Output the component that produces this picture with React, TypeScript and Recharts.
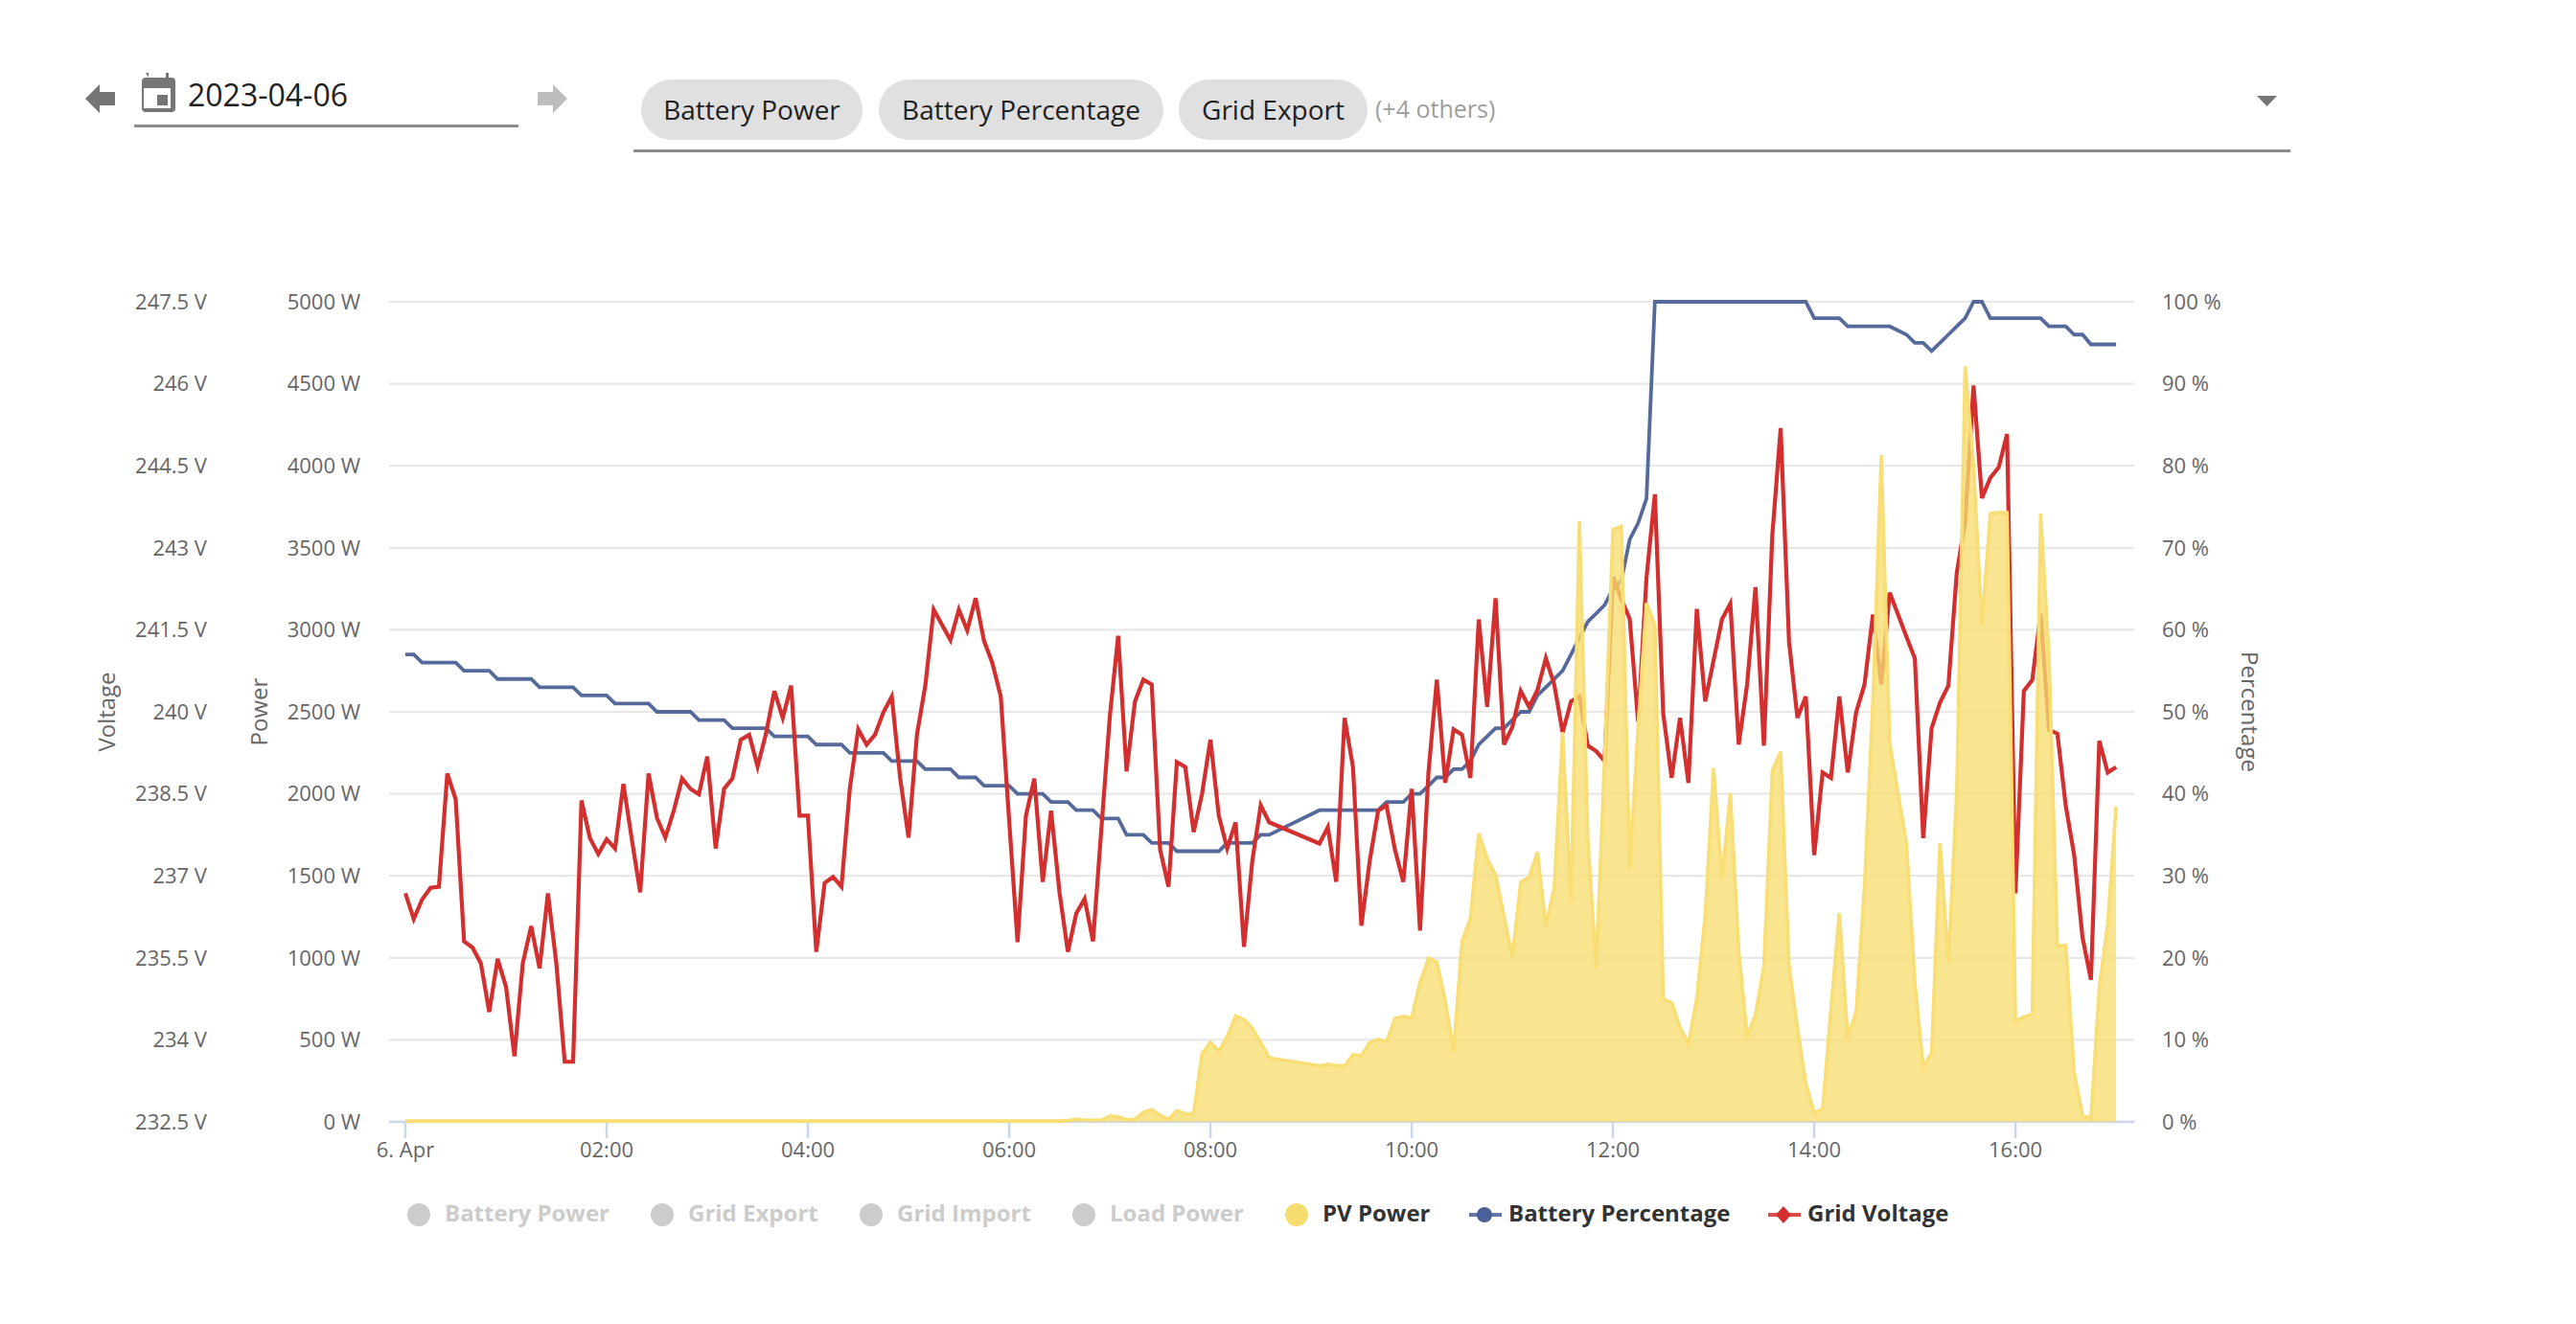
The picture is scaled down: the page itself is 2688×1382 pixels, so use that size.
import { ComposedChart, Area, Line, XAxis, YAxis, CartesianGrid, Legend } from 'recharts';

const FONT = '"Open Sans", sans-serif';

// 5 minute samples, one row per hour, from midnight
const pvPower = [
  5, 5, 5, 5, 5, 5, 5, 5, 5, 5, 5, 5,
  5, 5, 5, 5, 5, 5, 5, 5, 5, 5, 5, 5,
  5, 5, 5, 5, 5, 5, 5, 5, 5, 5, 5, 5,
  5, 5, 5, 5, 5, 5, 5, 5, 5, 5, 5, 5,
  5, 5, 5, 5, 5, 5, 5, 5, 5, 5, 5, 5,
  5, 5, 5, 5, 5, 5, 5, 5, 5, 5, 5, 5,
  5, 5, 5, 5, 5, 5, 5, 8, 16, 10, 10, 10,
  36, 30, 13, 16, 58, 75, 39, 16, 68, 49, 49, 416,
  484, 429, 520, 646, 623, 571, 484, 390, null, null, null, null,
  null, 341, 351, 344, 341, 409, 403, 484, 503, 487, 630, 643,
  633, 851, 997, 974, 737, 429, 1101, 1240, 1760, 1604, 1507, 1257,
  1003, 1461, 1490, 1646, 1192, 1429, 2377, 1344, 3663, 1727, 938, 2214,
  3611, 3630, 1539, 2409, 3163, 3026, 747, 727, 575, 477, 753, 1257,
  2156, 1484, 2003, 1045, 520, 656, 948, 2140, 2257, 948, 575, 234,
  55, 78, 688, 1273, 510, 672, 1435, 2571, 4065, 2312, 2003, 1695,
  851, 338, 419, 1701, 974, 2020, 4607, 4000, 3026, 3708, 3714, 3714,
  614, 640, 656, 3708, 2831, 1071, 1078, 299, 39, 20, 818, 1208,
  1922,
];

const batteryPercentage = [
  57, 57, 56, 56, 56, 56, 56, 55, 55, 55, 55, 54,
  54, 54, 54, 54, 53, 53, 53, 53, 53, 52, 52, 52,
  52, 51, 51, 51, 51, 51, 50, 50, 50, 50, 50, 49,
  49, 49, 49, 48, 48, 48, 48, 48, 47, 47, 47, 47,
  47, 46, 46, 46, 46, 45, 45, 45, 45, 45, 44, 44,
  44, 44, 43, 43, 43, 43, 42, 42, 42, 41, 41, 41,
  41, 40, 40, 40, 40, 39, 39, 39, 38, 38, 38, 37,
  37, 37, 35, 35, 35, 34, 34, 34, 33, 33, 33, 33,
  33, 33, 34, 34, 34, 34, 35, 35, null, null, null, null,
  null, 38, 38, 38, 38, 38, 38, 38, 38, 39, 39, 39,
  40, 40, 41, 42, 42, 43, 43, 44, 46, 47, 48, 48,
  49, 50, 50, 52, 53, 54, 55, 57, 59, 61, 62, 63,
  65, 66, 71, 73, 76, 100, 100, 100, 100, 100, 100, 100,
  100, 100, 100, 100, 100, 100, 100, 100, 100, 100, 100, 100,
  98, 98, 98, 98, 97, 97, 97, 97, 97, 97, 96.5, 96,
  95, 95, 94, 95, 96, 97, 98, 100, 100, 98, 98, 98,
  98, 98, 98, 98, 97, 97, 97, 96, 96, 94.8, 94.8, 94.8,
  94.8,
];

const gridVoltage = [
  236.68, 236.21, 236.57, 236.78, 236.8, 238.87, 238.4, 235.8, 235.69, 235.4, 234.51, 235.48,
  234.97, 233.7, 235.4, 236.08, 235.31, 236.68, 235.4, 233.6, 233.6, 238.38, 237.69, 237.4,
  237.67, 237.5, 238.68, 237.67, 236.7, 238.87, 238.06, 237.7, 238.19, 238.78, 238.59, 238.49,
  239.18, 237.5, 238.59, 238.78, 239.49, 239.58, 239, 239.6, 240.38, 239.89, 240.48, 238.1,
  238.1, 235.61, 236.87, 236.98, 236.8, 238.6, 239.68, 239.4, 239.58, 239.99, 240.28, 238.79,
  237.7, 239.58, 240.48, 241.87, 241.59, 241.31, 241.87, 241.49, 242.08, 241.3, 240.89, 240.28,
  238.01, 235.79, 238.1, 238.78, 236.89, 238.19, 236.7, 235.61, 236.31, 236.58, 235.8, 237.87,
  239.91, 241.39, 238.91, 240.19, 240.59, 240.5, 237.48, 236.8, 239.08, 238.99, 237.8, 238.5,
  239.49, 238.1, 237.5, 237.98, 235.7, 237.28, 238.29, 237.98, null, null, null, null,
  null, 237.59, 237.89, 236.89, 239.89, 238.99, 236.09, 237.28, 238.19, 238.29, 237.48, 236.89,
  238.59, 236, 238.89, 240.59, 238.7, 239.68, 239.58, 238.79, 241.69, 240.09, 242.08, 239.4,
  239.72, 240.38, 240.09, 240.4, 240.98, 240.5, 239.62, 240.19, 240.28, 239.38, 239.28, 239.1,
  242.47, 242.06, 241.7, 239.82, 242.45, 243.98, 239.96, 238.79, 239.89, 238.7, 241.88, 240.19,
  240.94, 241.69, 241.98, 239.4, 240.5, 242.28, 239.38, 243.22, 245.19, 241.28, 239.89, 240.28,
  237.38, 238.89, 238.79, 240.28, 238.89, 239.99, 240.5, 241.78, 240.5, 242.18, 241.78, 241.37,
  240.98, 237.69, 239.7, 240.17, 240.48, 242.54, 243.47, 245.97, 243.91, 244.28, 244.47, 245.08,
  236.68, 240.38, 240.58, 241.79, 239.67, 239.6, 238.28, 237.38, 235.87, 235.1, 239.47, 238.89,
  238.99,
];

const hourTicks = [0, 2, 4, 6, 8, 10, 12, 14, 16];
const hourLabels = ['6. Apr', '02:00', '04:00', '06:00', '08:00', '10:00', '12:00', '14:00', '16:00'];
const voltageTicks = [232.5, 234, 235.5, 237, 238.5, 240, 241.5, 243, 244.5, 246, 247.5];
const powerTicks = [0, 500, 1000, 1500, 2000, 2500, 3000, 3500, 4000, 4500, 5000];
const percentTicks = [0, 10, 20, 30, 40, 50, 60, 70, 80, 90, 100];

const legendItems = [
  { name: 'Battery Power', kind: 'off', x: 425 },
  { name: 'Grid Export', kind: 'off', x: 679 },
  { name: 'Grid Import', kind: 'off', x: 897 },
  { name: 'Load Power', kind: 'off', x: 1119 },
  { name: 'PV Power', kind: 'pv', x: 1341 },
  { name: 'Battery Percentage', kind: 'battery', x: 1533 },
  { name: 'Grid Voltage', kind: 'voltage', x: 1845 },
];

const chips = [
  { label: 'Battery Power', left: 669, width: 231 },
  { label: 'Battery Percentage', left: 917, width: 297 },
  { label: 'Grid Export', left: 1230, width: 197 },
];

const data = gridVoltage.map((v, i) => ({
  hour: i / 12,
  voltage: v,
  battery: batteryPercentage[i],
  pv: pvPower[i],
}));

const tickStyle = { fill: '#666666', fontSize: 22, fontFamily: FONT };
const titleStyle = { fill: '#666666', fontSize: 24, fontFamily: FONT, textAnchor: 'middle' as const };

function LegendMarker({ kind }: { kind: string }) {
  if (kind === 'off' || kind === 'pv') {
    return (
      <svg width={24} height={24} style={{ position: 'absolute', left: 0, top: 8 }}>
        <circle cx={12} cy={12} r={12} fill={kind === 'pv' ? '#f7dc6f' : '#cccccc'} />
      </svg>
    );
  }
  const color = kind === 'battery' ? '#4a6096' : '#d32f2f';
  return (
    <svg width={34} height={24} style={{ position: 'absolute', left: 0, top: 8 }}>
      <line x1={0} x2={34} y1={12} y2={12} stroke={color} strokeWidth={4} opacity={0.85} />
      {kind === 'battery' ? (
        <circle cx={16} cy={12} r={8} fill={color} />
      ) : (
        <path d="M16 3 L24 12 L16 21 L8 12 Z" fill={color} />
      )}
    </svg>
  );
}

function ChartLegend() {
  return (
    <div style={{ position: 'relative', width: 2688, height: 40 }}>
      {legendItems.map((item) => {
        const off = item.kind === 'off';
        const markerGap = off || item.kind === 'pv' ? 39 : 41;
        return (
          <div key={item.name} style={{ position: 'absolute', left: item.x, top: 0, height: 40 }}>
            <LegendMarker kind={item.kind} />
            <span
              style={{
                position: 'absolute',
                left: markerGap,
                top: -2,
                lineHeight: '40px',
                whiteSpace: 'nowrap',
                fontFamily: FONT,
                fontWeight: 700,
                fontSize: 24,
                color: off ? '#cccccc' : '#333333',
              }}
            >
              {item.name}
            </span>
          </div>
        );
      })}
    </div>
  );
}

function Toolbar() {
  return (
    <>
      <svg width={2688} height={170} style={{ position: 'absolute', left: 0, top: 0 }}>
        <path d="M89 103 L104 88 L104 96 L120 96 L120 110 L104 110 L104 118 Z" fill="#757575" />
        <path d="M592 103 L577 88 L577 96 L561 96 L561 110 L577 110 L577 118 Z" fill="#bdbdbd" />
        <path
          d="M152 76 h3 v5 h18 v-5 h3 v5 h3 a4 4 0 0 1 4 4 v28 a4 4 0 0 1 -4 4 h-27 a4 4 0 0 1 -4 -4 v-28 a4 4 0 0 1 4 -4 h3 z M150 92 v21 h28 v-21 z M164 99 h11 v11 h-11 z"
          fill="#757575"
          fillRule="evenodd"
        />
        <rect x={140} y={130} width={401} height={3} fill="#8c8c8c" />
        <rect x={661} y={156} width={1729} height={3} fill="#8c8c8c" />
        <path d="M2355 100 L2376 100 L2365.5 111 Z" fill="#757575" />
      </svg>
      <div style={{ position: 'absolute', left: 196, top: 77, fontFamily: FONT, fontSize: 32, lineHeight: '44px', color: '#212121' }}>
        2023-04-06
      </div>
      {chips.map((chip) => (
        <div
          key={chip.label}
          style={{
            position: 'absolute',
            left: chip.left,
            top: 83,
            width: chip.width,
            height: 63,
            borderRadius: 32,
            background: '#e0e0e0',
            textAlign: 'center',
            fontFamily: FONT,
            fontSize: 28,
            lineHeight: '63px',
            color: '#212121',
            whiteSpace: 'nowrap',
          }}
        >
          {chip.label}
        </div>
      ))}
      <div style={{ position: 'absolute', left: 1435, top: 95, fontFamily: FONT, fontSize: 25, lineHeight: '36px', color: '#9e9e9e' }}>
        (+4 others)
      </div>
    </>
  );
}

export default function App() {
  return (
    <div style={{ position: 'absolute', left: 0, top: 0, width: 2688, height: 1382, background: '#ffffff', overflow: 'hidden' }}>
      <ComposedChart width={2688} height={1382} data={data} margin={{ top: 315, right: 301, bottom: 131, left: 86 }}>
        <CartesianGrid vertical={false} yAxisId="power" stroke="#e8e8e8" strokeWidth={2.2} syncWithTicks />
        <XAxis
          dataKey="hour"
          type="number"
          domain={[-0.162, 17.18]}
          allowDataOverflow
          ticks={hourTicks}
          tickFormatter={(h: number) => hourLabels[hourTicks.indexOf(h)]}
          interval={0}
          height={40}
          tick={tickStyle}
          tickSize={17}
          tickMargin={4}
          stroke="#ccd6eb"
          strokeWidth={2.5}
        />
        <YAxis
          yAxisId="voltage"
          width={160}
          domain={[232.5, 247.5]}
          ticks={voltageTicks}
          interval={0}
          tickFormatter={(v: number) => `${v} V`}
          tick={tickStyle}
          tickLine={false}
          tickMargin={30}
          tickSize={0}
          axisLine={false}
          label={{ value: 'Voltage', angle: -90, position: 'insideLeft', offset: 25, style: titleStyle }}
        />
        <YAxis
          yAxisId="power"
          width={160}
          domain={[0, 5000]}
          ticks={powerTicks}
          interval={0}
          tickFormatter={(v: number) => `${v} W`}
          tick={tickStyle}
          tickLine={false}
          tickMargin={30}
          tickSize={0}
          axisLine={false}
          label={{ value: 'Power', angle: -90, position: 'insideLeft', offset: 24, style: titleStyle }}
        />
        <YAxis
          yAxisId="percent"
          orientation="right"
          width={160}
          domain={[0, 100]}
          ticks={percentTicks}
          interval={0}
          tickFormatter={(v: number) => `${v} %`}
          tick={tickStyle}
          tickLine={false}
          tickMargin={29}
          tickSize={0}
          axisLine={false}
          label={{ value: 'Percentage', angle: 90, position: 'insideRight', offset: 39, style: titleStyle }}
        />
        <Line
          yAxisId="percent"
          dataKey="battery"
          name="Battery Percentage"
          type="linear"
          stroke="#56699b"
          strokeWidth={3.8}
          dot={false}
          connectNulls
          isAnimationActive={false}
        />
        <Line
          yAxisId="voltage"
          dataKey="voltage"
          name="Grid Voltage"
          type="linear"
          stroke="#d32f2f"
          strokeWidth={4.2}
          dot={false}
          connectNulls
          isAnimationActive={false}
        />
        <Area
          yAxisId="power"
          dataKey="pv"
          name="PV Power"
          type="linear"
          stroke="#f8de74"
          strokeWidth={3.6}
          fill="#f7dc6f"
          fillOpacity={0.78}
          dot={false}
          connectNulls
          isAnimationActive={false}
          zIndex={500}
        />
        <Legend content={<ChartLegend />} height={40} wrapperStyle={{ left: 0, top: 1248, width: 2688 }} />
      </ComposedChart>
      <Toolbar />
    </div>
  );
}
